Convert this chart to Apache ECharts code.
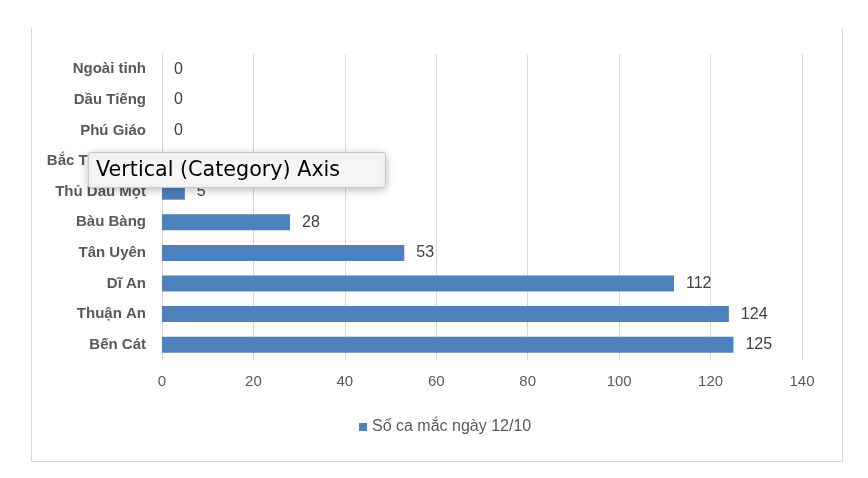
<!DOCTYPE html>
<html><head><meta charset="utf-8">
<script src="https://cdn.jsdelivr.net/npm/echarts@6/dist/echarts.min.js"></script>
<style>html,body{margin:0;padding:0;background:#fff}#c{width:868px;height:478px}</style>
</head><body><div id="c"></div>
<script>
const categories = ["Bến Cát","Thuận An","Dĩ An","Tân Uyên","Bàu Bàng","Thủ Dầu Một","Bắc Tân Uyên","Phú Giáo","Dầu Tiếng","Ngoài tỉnh"];
const values = [125,124,112,53,28,5,0,0,0,0];
const seriesName = "Số ca mắc ngày 12/10";
const tooltipText = "Vertical (Category) Axis";

const chart = echarts.init(document.getElementById('c'));
const font = "Liberation Sans, sans-serif";
chart.setOption({
  animation:false,
  grid:{left:162,right:66,top:54,bottom:118},
  xAxis:{type:'value',min:0,max:140,interval:20,
    axisLine:{show:false},axisTick:{show:false},
    splitLine:{lineStyle:{color:'#d9d9d9',width:1}},
    axisLabel:{color:'#595959',fontSize:15,fontFamily:font,margin:14}},
  yAxis:{type:'category',data:categories,
    axisLine:{lineStyle:{color:'#d9d9d9'}},axisTick:{show:false},
    axisLabel:{color:'#595959',fontSize:15,fontWeight:'bold',fontFamily:font,margin:16}},
  legend:{bottom:38,left:354,itemWidth:8,itemHeight:8,itemGap:4,icon:'rect',
    textStyle:{color:'#595959',fontSize:16,fontFamily:font},data:[seriesName]},
  series:[{name:seriesName,type:'bar',data:values,barWidth:16,
    itemStyle:{color:'#4f81bd'},
    label:{show:true,position:'right',distance:12,color:'#404040',fontSize:16,fontFamily:font}}],
  graphic:[
    {type:'line',shape:{x1:31.5,y1:28,x2:31.5,y2:461},style:{stroke:'#d9d9d9',lineWidth:1}},
    {type:'line',shape:{x1:842.5,y1:28,x2:842.5,y2:461},style:{stroke:'#d9d9d9',lineWidth:1}},
    {type:'line',shape:{x1:31,y1:461.5,x2:843,y2:461.5},style:{stroke:'#d9d9d9',lineWidth:1}},
    {type:'rect',shape:{x:88.5,y:152.5,width:297,height:35,r:2},z:100,
      style:{fill:'#f6f6f6',stroke:'#c8c8c8',lineWidth:1,shadowBlur:8,shadowColor:'rgba(0,0,0,0.25)',shadowOffsetY:2}},
    {type:'text',x:96,y:171,z:101,style:{text:tooltipText,fill:'#000',fontSize:20.7,fontFamily:'DejaVu Sans, sans-serif',verticalAlign:'middle'}}
  ]
});
</script></body></html>
